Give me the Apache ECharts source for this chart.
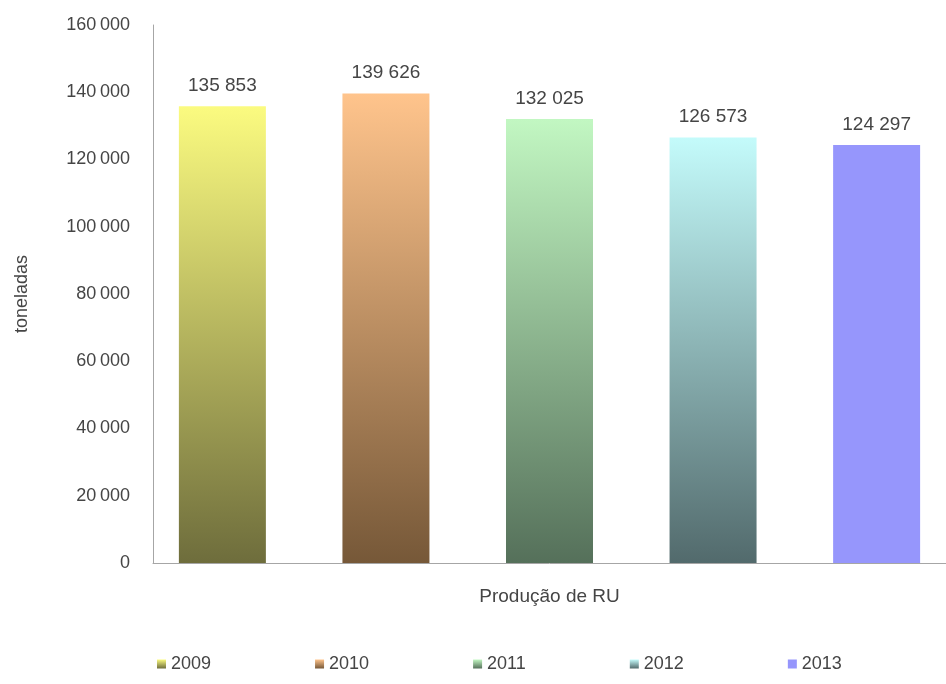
<!DOCTYPE html>
<html>
<head>
<meta charset="utf-8">
<script src="https://cdn.jsdelivr.net/npm/echarts@6/dist/echarts.min.js"></script>
<style>
  html, body { margin: 0; padding: 0; background: #ffffff; }
  #chart { width: 946px; height: 684px; }
</style>
</head>
<body>
<div id="chart"></div>
<script>
// Urban waste production (tonnes) per year
const categories = ['Produção de RU'];
const years = ['2009', '2010', '2011', '2012', '2013'];
const values2009 = [135853];
const values2010 = [139626];
const values2011 = [132025];
const values2012 = [126573];
const values2013 = [124297];
const seriesValues = [values2009, values2010, values2011, values2012, values2013];

// fill colours per year: [top, bottom]
const fills = [
  ['#fbfb80', '#6e6d3c'],
  ['#ffc48c', '#765838'],
  ['#c2f7c2', '#55705a'],
  ['#c4fbfb', '#526a6c'],
  ['#9696fc', '#9696fc']
];

const FONT = '"Liberation Sans", "DejaVu Sans", sans-serif';
const TEXT = '#454545';

function grouped(n, sep) {
  return String(n).replace(/\B(?=(\d{3})+(?!\d))/g, sep);
}

function grad(pair) {
  return new echarts.graphic.LinearGradient(0, 0, 0, 1, [
    { offset: 0, color: pair[0] },
    { offset: 1, color: pair[1] }
  ]);
}

const chart = echarts.init(document.getElementById('chart'), null, { renderer: 'canvas' });

const series = years.map((y, i) => ({
  name: y,
  type: 'bar',
  data: seriesValues[i],
  barWidth: 87,
  barGap: '88%',
  itemStyle: { color: grad(fills[i]) },
  label: {
    show: true,
    position: 'top',
    distance: 11,
    color: TEXT,
    fontFamily: FONT,
    fontSize: 19,
    formatter: p => grouped(p.value, ' ')
  }
}));

chart.setOption({
  animation: false,
  backgroundColor: '#ffffff',
  grid: { left: 153, top: 25, width: 807, height: 538, containLabel: false },
  xAxis: {
    type: 'category',
    data: categories,
    axisLine: { show: true, lineStyle: { color: '#a6a6a6', width: 1 } },
    axisTick: { show: false },
    axisLabel: { color: TEXT, fontFamily: FONT, fontSize: 19, margin: 24 }
  },
  yAxis: {
    type: 'value',
    min: 0,
    max: 160000,
    interval: 20000,
    name: 'toneladas',
    nameLocation: 'middle',
    nameGap: 122,
    nameRotate: 90,
    nameTextStyle: { color: TEXT, fontFamily: FONT, fontSize: 18 },
    axisLine: { show: true, lineStyle: { color: '#a6a6a6', width: 1 } },
    axisTick: { show: false },
    splitLine: { show: false },
    axisLabel: {
      color: TEXT, fontFamily: FONT, fontSize: 18, margin: 23,
      formatter: v => grouped(v, '\u2009')
    }
  },
  legend: {
    data: years,
    top: 650,
    left: 152,
    itemWidth: 9,
    itemHeight: 9,
    itemGap: 104,
    icon: 'rect',
    textStyle: { color: TEXT, fontFamily: FONT, fontSize: 18 }
  },
  series: series
});
</script>
</body>
</html>
